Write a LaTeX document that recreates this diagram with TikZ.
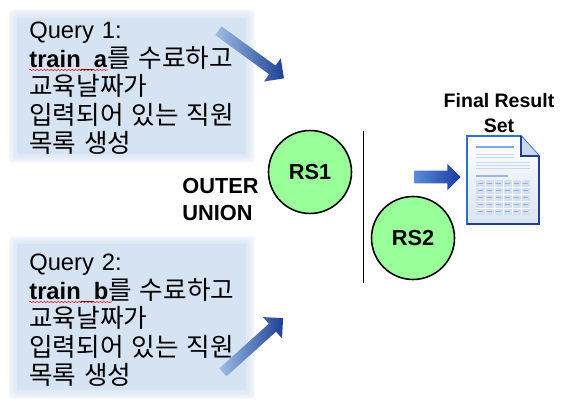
\documentclass[tikz,border=0pt]{standalone}
\usepackage{xcolor}
\usepackage{fontspec}
\setmainfont{Liberation Sans}
\newfontfamily\kr[Scale=1.08]{Noto Sans CJK KR}
\usetikzlibrary{positioning,calc,backgrounds,shapes.arrows,decorations.pathmorphing}
\definecolor{boxblue}{HTML}{D6E3F2}
\definecolor{rsgreen}{HTML}{99FF99}
\definecolor{arrdark}{HTML}{1F3F95}
\definecolor{arrlight}{HTML}{9DBDE6}
\definecolor{docedge}{HTML}{2F6FD0}
\definecolor{docline}{HTML}{C9D8EC}
\begin{document}
\begin{tikzpicture}[
  x=0.02cm, y=-0.02cm,
  qbox/.style={fill=boxblue, anchor=north west, inner sep=0pt, minimum width=4.58cm},
  qtext/.style={anchor=north west, align=left, inner sep=0pt, text width=4.4cm, font=\fontsize{13.5}{16.2}\selectfont},
  rs/.style={circle, draw, line width=0.9pt, fill=rsgreen, minimum size=1.66cm, inner sep=0pt,
    font=\fontsize{12.4}{14}\selectfont\bfseries},
  lbl/.style={align=left, inner sep=0pt, font=\fontsize{12.4}{15.4}\selectfont\bfseries},
  arr/.style={single arrow, minimum height=1.62cm, minimum width=0.56cm, inner xsep=0pt, inner ysep=0.1cm,
    single arrow head extend=0.18cm, single arrow head indent=0pt, left color=arrlight, right color=arrdark},
  wavy/.style={red, line width=0.3pt, decorate, decoration={snake, amplitude=0.35pt, segment length=2pt}}]
\useasboundingbox (0,0) rectangle (563,411);
\node[qbox, minimum height=2.72cm] (q1) at (17,18) {};
\node[qbox, minimum height=2.92cm] (q2) at (17,244) {};
\begin{scope}[on background layer]
\foreach \q in {q1,q2} \foreach \g in {2,4,6,8}
  \fill[boxblue, opacity=0.3, rounded corners=2pt] ($(\q.north west)+(-\g,-\g)$) rectangle ($(\q.south east)+(\g,\g)$);
\end{scope}
\node[qtext] (t1) at (29,22) {Query 1:\\\textbf{train\_a}{\kr 를 수료하고}\\{\kr 교육날짜가}\\{\kr 입력되어 있는 직원}\\{\kr 목록 생성}};
\node[qtext] (t2) at (29,254) {Query 2:\\\textbf{train\_b}{\kr 를 수료하고}\\{\kr 교육날짜가}\\{\kr 입력되어 있는 직원}\\{\kr 목록 생성}};
\draw[wavy] (29,70) -- (108,70);
\draw[wavy] (29,302) -- (112,302);
\node[arr, rotate=-36] (a1) at (249,53) {};
\node[arr, rotate=42] (a2) at (251,347) {};
\node[rs] (rs1) at (310,172) {RS1};
\node[rs] (rs2) at (413,238) {RS2};
\node[lbl, anchor=north west] (ou) at (182,178) {OUTER\\UNION};
\coordinate (st) at (363,131);
\coordinate (en) at (363,283);
\draw[line width=0.5pt] (st) -- (en);
\node[single arrow, minimum height=0.92cm, minimum width=0.48cm, inner xsep=0pt, inner ysep=0.12cm, single arrow head extend=0.14cm,
  single arrow head indent=0pt, left color=docedge!80, right color=arrdark!90!blue] (a3) at (434.5,177) {};
\node[align=center, inner sep=0pt, font=\fontsize{11.1}{14}\selectfont\bfseries] (fr) at (499,113) {Final Result\\Set};
% document icon
\draw[line width=1pt, draw=docedge, top color=white, bottom color=docline!70] (467,136) -- (521,136) -- (539,156) -- (539,224) -- (467,224) -- cycle;
\draw[line width=1pt, draw=arrdark] (539,156) -- (539,224) -- (467,224);
\fill[docline] (521,136) -- (521,156) -- (539,156) -- cycle;
\draw[line width=0.8pt, draw=arrdark] (521,136) -- (521,156) -- (539,156);
\draw[line width=0.7pt, docedge!60] (476,147) -- (514,147);
\foreach \y in {154,157} \draw[line width=0.5pt, docline] (476,\y) -- (514,\y);
\foreach \y in {162,165,168} \draw[line width=0.5pt, docline] (476,\y) -- (530,\y);
\draw[line width=0.6pt, docedge!50] (476,176) -- (508,176);
\fill[docline!80] (476,180) rectangle (530,215);
\foreach \c in {1,...,5} \draw[line width=0.3pt, white] ({476+9*\c},180) -- ({476+9*\c},215);
\foreach \r in {1,...,4} \draw[line width=0.3pt, white] (476,{180+7*\r}) -- (530,{180+7*\r});
\foreach \c in {0,...,5} \foreach \r in {0,...,4}
  \draw[line width=0.7pt, docedge!55] ({478+9*\c},{183.5+7*\r}) -- ({483+9*\c},{183.5+7*\r});
\end{tikzpicture}
\end{document}
